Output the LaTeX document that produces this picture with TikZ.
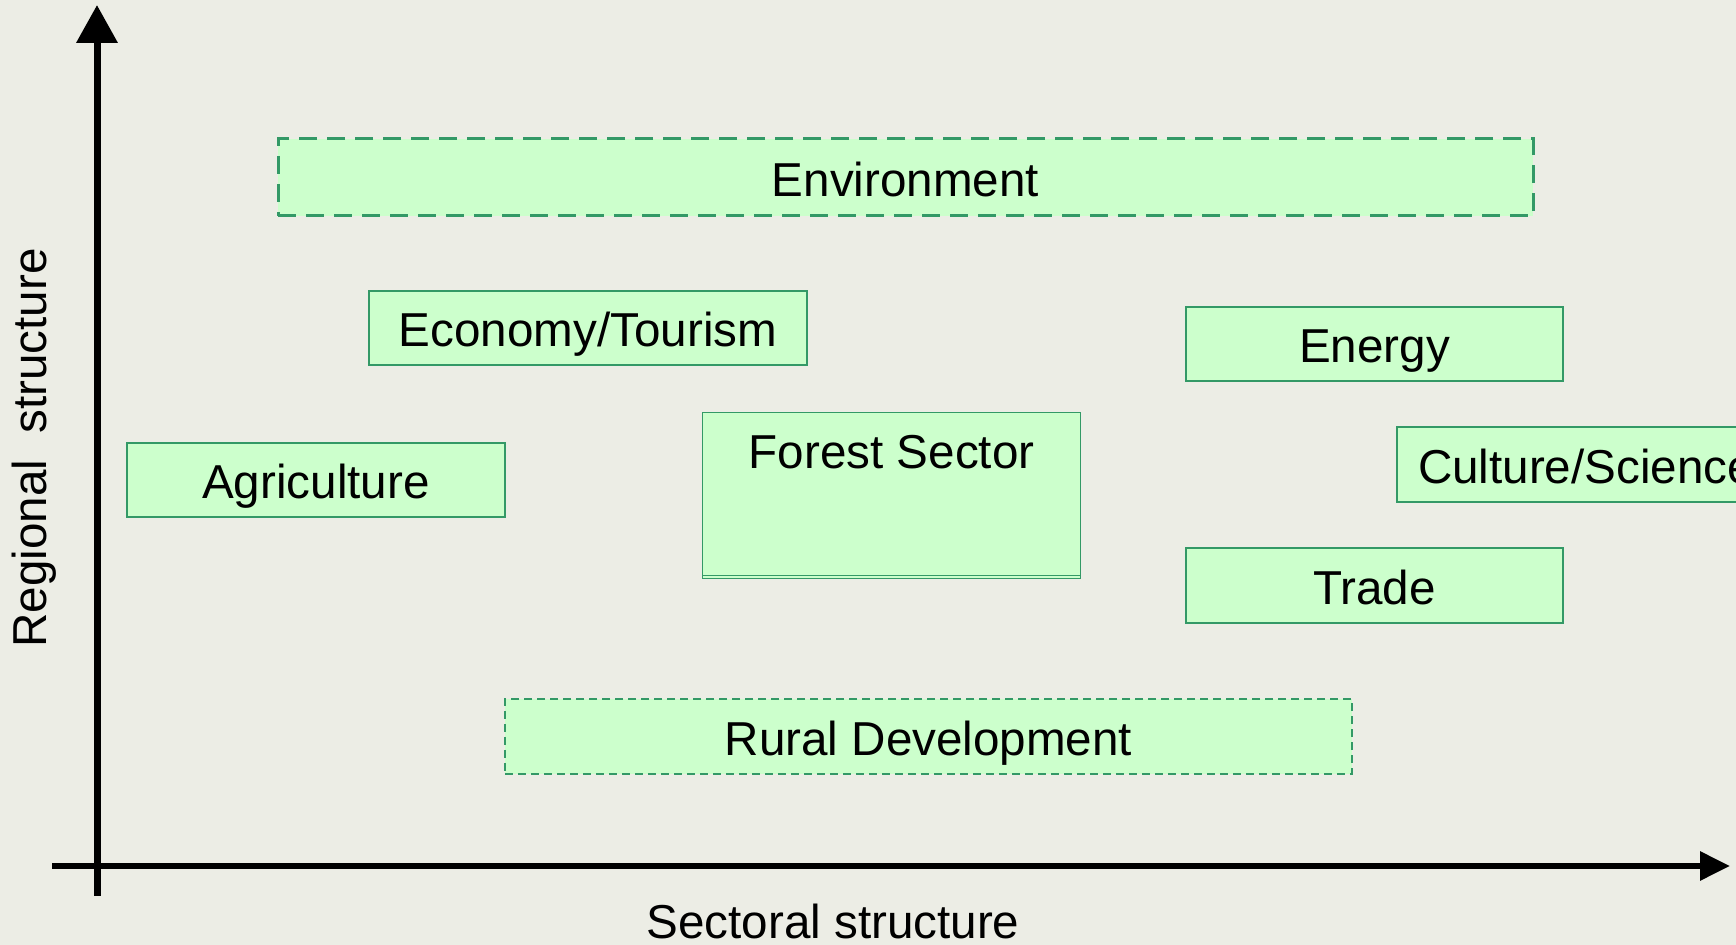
\documentclass[tikz,border=0pt]{standalone}
\usepackage{fontspec}
\setmainfont{Liberation Sans}
\usetikzlibrary{arrows.meta}

\definecolor{bgpaper}{RGB}{236,237,229}
\definecolor{boxfill}{RGB}{204,255,204}
\definecolor{boxline}{RGB}{51,153,102}

\begin{document}
\begin{tikzpicture}[x=0.5pt,y=-0.5pt,
                    every node/.style={font=\fontsize{23.8}{28}\selectfont},
                    sector/.style={rectangle,draw=boxline,fill=boxfill,line width=0.7pt,
                                   inner sep=0pt,minimum height=37pt,
                                   text height=19pt,text depth=0pt},
                    wide/.style={sector,line width=1.5pt,dash pattern=on 9pt off 5pt},
                    thin/.style={sector,line width=0.6pt,dash pattern=on 4pt off 2.5pt},
                    axis/.style={draw=black}]

\clip (0,0) rectangle (1736,945);
\fill[bgpaper] (0,0) rectangle (1736,945);

% axes
\coordinate (ybot) at (97,896);
\coordinate (ytop) at (97,5);
\coordinate (xleft) at (52,866);
\coordinate (xright) at (1730,866);
\draw[axis,line width=3.5pt,-{Triangle[length=19pt,width=20pt]}] (ybot) -- (ytop);
\draw[axis,line width=3pt,-{Triangle[length=15pt,width=14pt]}] (xleft) -- (xright);

\node[rotate=90] (ylab) at (34,448) {Regional\ \ structure};
\node (xlab) at (833,921) {Sectoral structure};

% sectors
\node[wide,minimum width=627.5pt,minimum height=38.5pt] (env) at (905.5,177.5) {Environment};
\node[sector,minimum width=219pt] (econ) at (588,328) {Economy/Tourism};
\node[sector,minimum width=188.5pt] (energy) at (1374.5,344) {Energy};
\node[sector,minimum width=189pt] (agri) at (316,480) {Agriculture};
\node[sector,minimum width=189pt,anchor=north west,text height=28pt,text depth=55pt] (forest) at (702,412) {Forest Sector};
\draw[boxline,line width=0.7pt] ([yshift=2pt]forest.south west) -- ([yshift=2pt]forest.south east);
\node[sector,minimum width=189pt,minimum height=37.5pt] (culture) at (1586,464.5) {Culture/Science};
\node[sector,minimum width=188.5pt,minimum height=37.5pt] (trade) at (1374.5,585.5) {Trade};
\node[thin,minimum width=423.5pt,minimum height=37.5pt] (rural) at (928.5,736.5) {Rural Development};

\end{tikzpicture}
\end{document}
